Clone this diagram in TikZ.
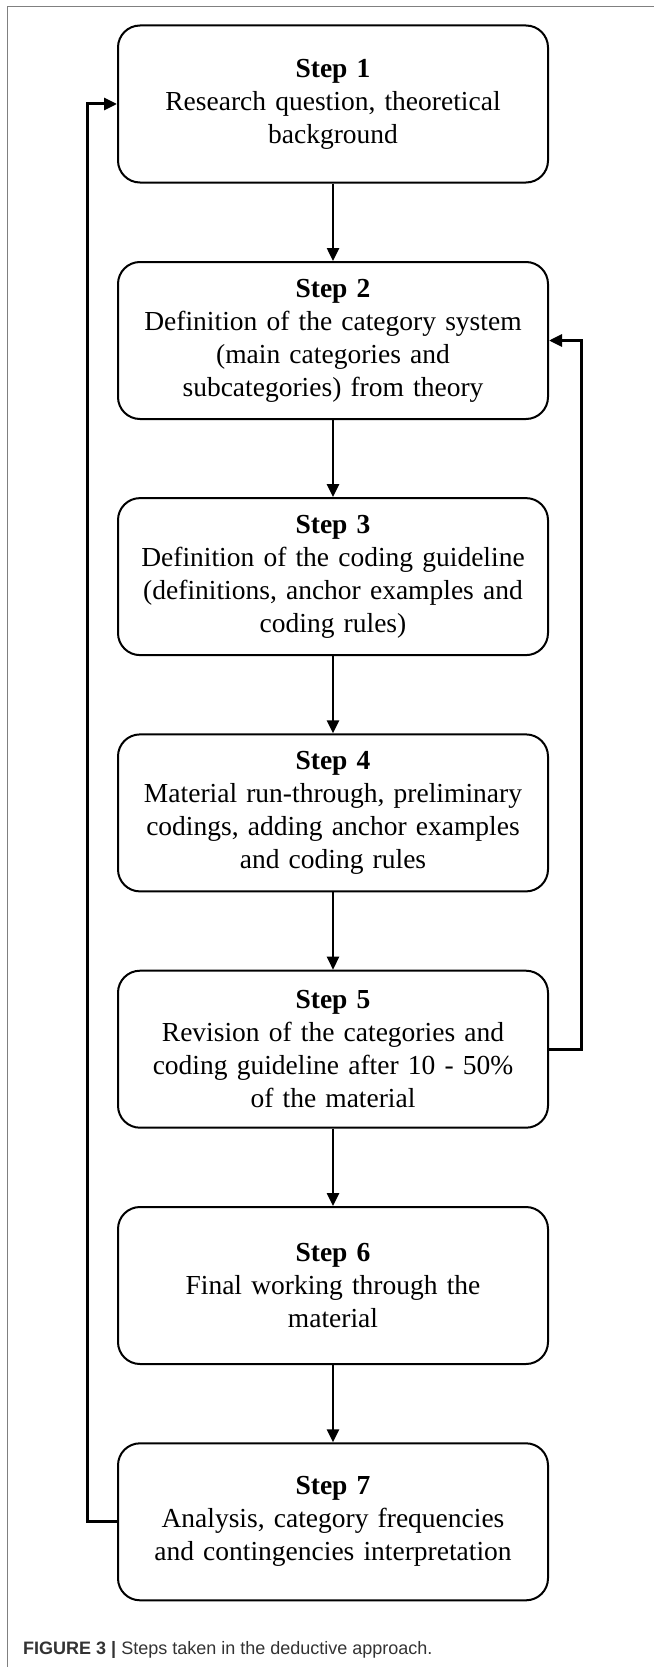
\documentclass[tikz,border=0pt]{standalone}
\usepackage{fontspec}
\setmainfont{Liberation Serif}
\newfontfamily\capfont{Liberation Sans}
\usetikzlibrary{arrows.meta}
\definecolor{framegray}{HTML}{808080}
\definecolor{capgray}{HTML}{333333}
\tikzset{
  stepbox/.style={draw=black, line width=2pt, rounded corners=22pt, fill=white,
    minimum width=430pt, minimum height=157pt, inner sep=0pt,
    text width=420pt, align=center,
    font=\fontsize{27.5}{33}\selectfont},
  flow/.style={line width=2.5pt, -{Triangle[length=13pt,width=12pt]}},
  loopline/.style={line width=3pt, -{Triangle[length=13pt,width=12pt]}},
  framelinestyle/.style={draw=framegray, line width=1pt}
}
\begin{document}
\begin{tikzpicture}[x=1pt,y=-1pt]
\useasboundingbox (0,0) rectangle (654,1667);
\draw[framelinestyle] (7,1667) -- (7,7) -- (654,7);

\node[stepbox] (s1) at (333,104) {\textbf{Step 1}\\Research question, theoretical\\background};
\node[stepbox] (s2) at (333,340.5) {\textbf{Step 2}\\Definition of the category system\\(main categories and\\subcategories) from theory};
\node[stepbox] (s3) at (333,576.6) {\textbf{Step 3}\\Definition of the coding guideline\\(definitions, anchor examples and\\coding rules)};
\node[stepbox] (s4) at (333,812.9) {\textbf{Step 4}\\Material run-through, preliminary\\codings, adding anchor examples\\and coding rules};
\node[stepbox] (s5) at (333,1049.2) {\textbf{Step 5}\\Revision of the categories and\\coding guideline after 10 - 50\%\\of the material};
\node[stepbox] (s6) at (333,1285.5) {\textbf{Step 6}\\Final working through the\\material};
\node[stepbox] (s7) at (333,1521.8) {\textbf{Step 7}\\Analysis, category frequencies\\and contingencies interpretation};

\draw[flow] (s1) -- (s2);
\draw[flow] (s2) -- (s3);
\draw[flow] (s3) -- (s4);
\draw[flow] (s4) -- (s5);
\draw[flow] (s5) -- (s6);
\draw[flow] (s6) -- (s7);

\coordinate (lb) at (87,1521.8);
\coordinate (lt) at (87,104);
\draw[loopline] (s7.west) -- (lb) -- (lt) -- (s1.west);

\coordinate (rb) at (581,1049.2);
\coordinate (rt) at (581,340.5);
\draw[loopline] (s5.east) -- (rb) -- (rt) -- (s2.east);

\node[anchor=base west, inner sep=0pt, text=capgray, font=\capfont\fontsize{18}{21}\selectfont] (cap) at (23,1654) {\textbf{FIGURE 3 |} Steps taken in the deductive approach.};
\end{tikzpicture}
\end{document}
